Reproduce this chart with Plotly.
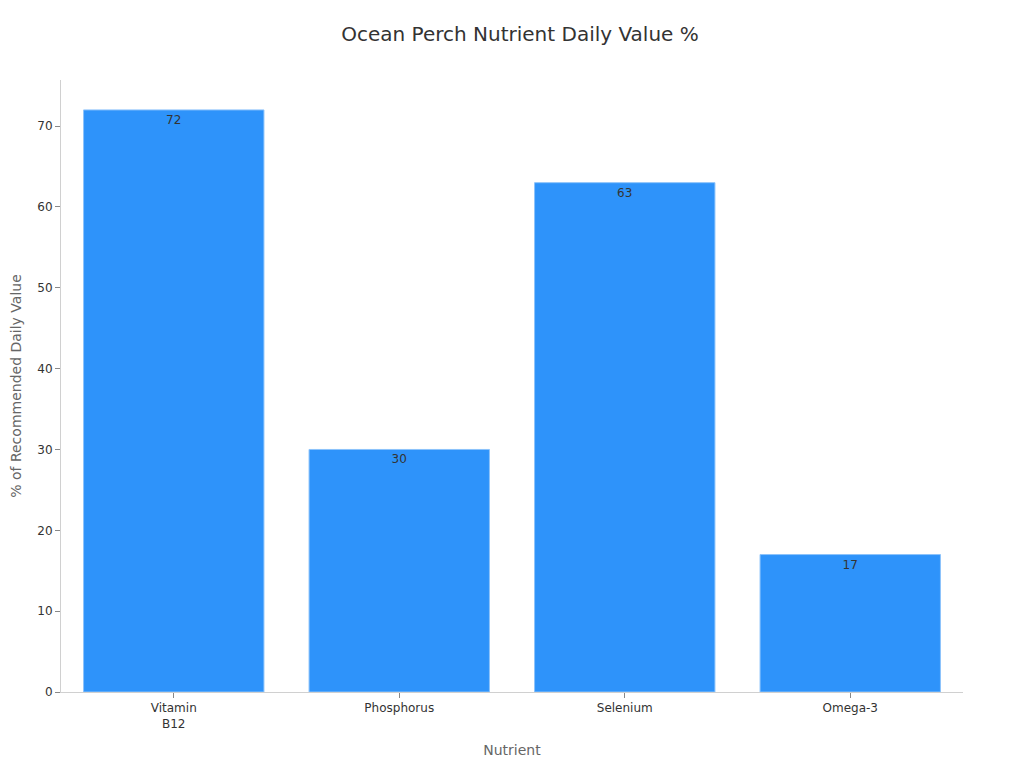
import plotly.graph_objects as go

nutrients = ["Vitamin<br>B12", "Phosphorus", "Selenium", "Omega-3"]
daily_value = [72, 30, 63, 17]

fig = go.Figure()
fig.add_trace(go.Bar(
    x=nutrients,
    y=daily_value,
    text=daily_value,
    textposition="inside",
    insidetextanchor="end",
    textfont=dict(color="#333333", size=12),
    marker=dict(color="#2E93FA", line=dict(color="#8CC3FB", width=1)),
    showlegend=False,
))

fig.update_layout(
    title=dict(text="Ocean Perch Nutrient Daily Value %", x=0.5, y=0.975,
               font=dict(size=20, color="#333333")),
    font=dict(family="DejaVu Sans", size=12, color="#333333"),
    width=1024, height=768,
    margin=dict(l=53, r=69, t=72, b=84),
    plot_bgcolor="white", paper_bgcolor="white",
    bargap=0.2,
    xaxis=dict(title=dict(text="Nutrient", font=dict(size=14, color="#666666")),
               showline=True, linecolor="#d0d0d0", ticks="outside",
               tickcolor="#888888", ticklen=5),
    yaxis=dict(title=dict(text="% of Recommended Daily Value", font=dict(size=14, color="#666666")),
               automargin=False,
               range=[0, 75.7], showgrid=False, zeroline=False,
               showline=True, linecolor="#d0d0d0", ticks="outside",
               tickcolor="#888888", ticklen=5, dtick=10),
)

fig.write_html("out.html")
